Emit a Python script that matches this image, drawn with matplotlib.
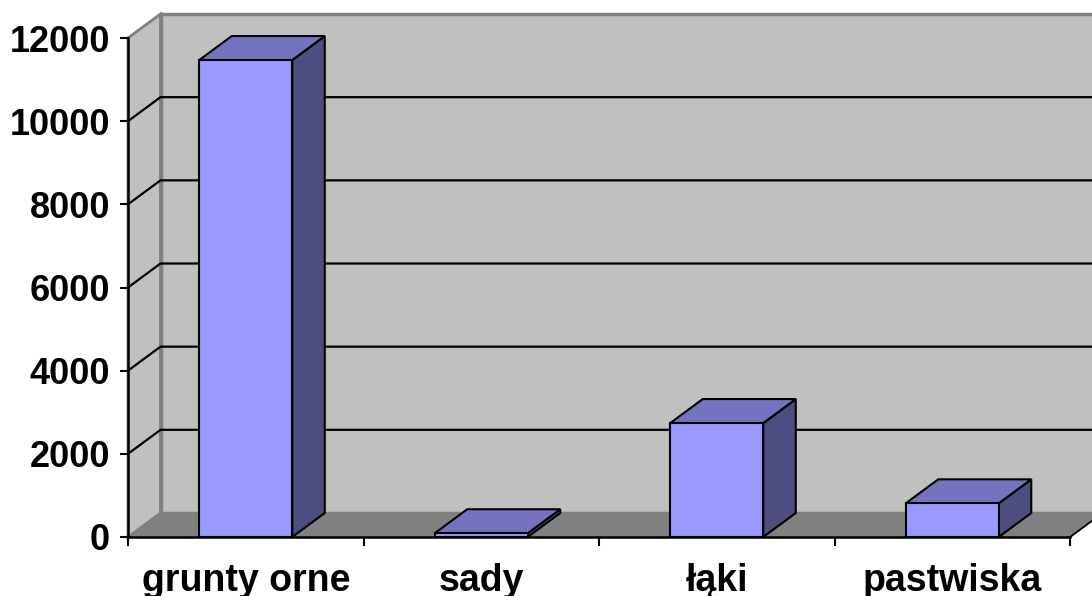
import matplotlib
matplotlib.use("Agg")
import matplotlib.pyplot as plt
from matplotlib.patches import Polygon

categories = ["grunty orne", "sady", "łąki", "pastwiska"]
values = [11470, 90, 2740, 810]
yticks = [0, 2000, 4000, 6000, 8000, 10000, 12000]

plt.rcParams['font.family'] = ['Liberation Sans', 'DejaVu Sans']
plt.rcParams['font.weight'] = 'bold'

fig = plt.figure(figsize=(10.92, 5.96), dpi=100)
ax = fig.add_axes([128 / 1092, 59 / 596, 942 / 1092, 499 / 596])
ax.set_xlim(0, len(categories))
ax.set_ylim(0, 12000)
ax.patch.set_visible(False)

# depth of the fake 3d box, in data units
dx = 32.5 / 235.5
dy = 24 * 12000 / 499
n = len(categories)
ymax = 12000

wall = '#c0c0c0'
edge = '#808080'

# floor, left wall, back wall
ax.add_patch(Polygon([(0, 0), (n, 0), (n + dx, dy), (dx, dy)], closed=True,
                     facecolor='#808080', edgecolor=edge, lw=1.5, clip_on=False, zorder=0))
ax.add_patch(Polygon([(0, 0), (dx, dy), (dx, ymax + dy), (0, ymax)], closed=True,
                     facecolor=wall, edgecolor=edge, lw=2, clip_on=False, zorder=0))
ax.add_patch(Polygon([(dx, dy), (n + dx, dy), (n + dx, ymax + dy), (dx, ymax + dy)], closed=True,
                     facecolor=wall, edgecolor=edge, lw=2.5, clip_on=False, zorder=0))

# gridlines on walls
for v in yticks[1:-1]:
    ax.plot([0, dx, n + dx], [v, v + dy, v + dy], color='black', lw=1.6, clip_on=False, zorder=1)
# right floor edge
ax.plot([n, n + dx], [0, dy], color='black', lw=1.2, clip_on=False, zorder=1)

# bars
w = 0.395
for i, v in enumerate(values):
    c = i + 0.5
    l, r = c - w / 2, c + w / 2
    ax.add_patch(Polygon([(r, 0), (r + dx, dy), (r + dx, v + dy), (r, v)], closed=True,
                         facecolor='#4d4d80', edgecolor='black', lw=1.5, clip_on=False, zorder=3))
    ax.add_patch(Polygon([(l, v), (r, v), (r + dx, v + dy), (l + dx, v + dy)], closed=True,
                         facecolor='#7373bf', edgecolor='black', lw=1.5, clip_on=False, zorder=3))
    ax.add_patch(Polygon([(l, 0), (r, 0), (r, v), (l, v)], closed=True,
                         facecolor='#9999ff', edgecolor='black', lw=1.5, clip_on=False, zorder=4))

for s in ['top', 'right']:
    ax.spines[s].set_visible(False)
for s in ['left', 'bottom']:
    ax.spines[s].set_linewidth(1.8)
    ax.spines[s].set_zorder(5)

ax.set_yticks(yticks)
ax.set_yticklabels([str(t) for t in yticks])
ax.tick_params(axis='y', length=6, width=1.5, pad=7, labelsize=26)

ax.set_xticks(range(n + 1))
ax.set_xticklabels([])
ax.set_xticks([i + 0.5 for i in range(n)], minor=True)
ax.set_xticklabels(categories, minor=True)
ax.tick_params(axis='x', which='major', length=6.5, width=1.5)
ax.tick_params(axis='x', which='minor', length=0, pad=19, labelsize=27)

fig.savefig("out.png", dpi=100, facecolor='white')
